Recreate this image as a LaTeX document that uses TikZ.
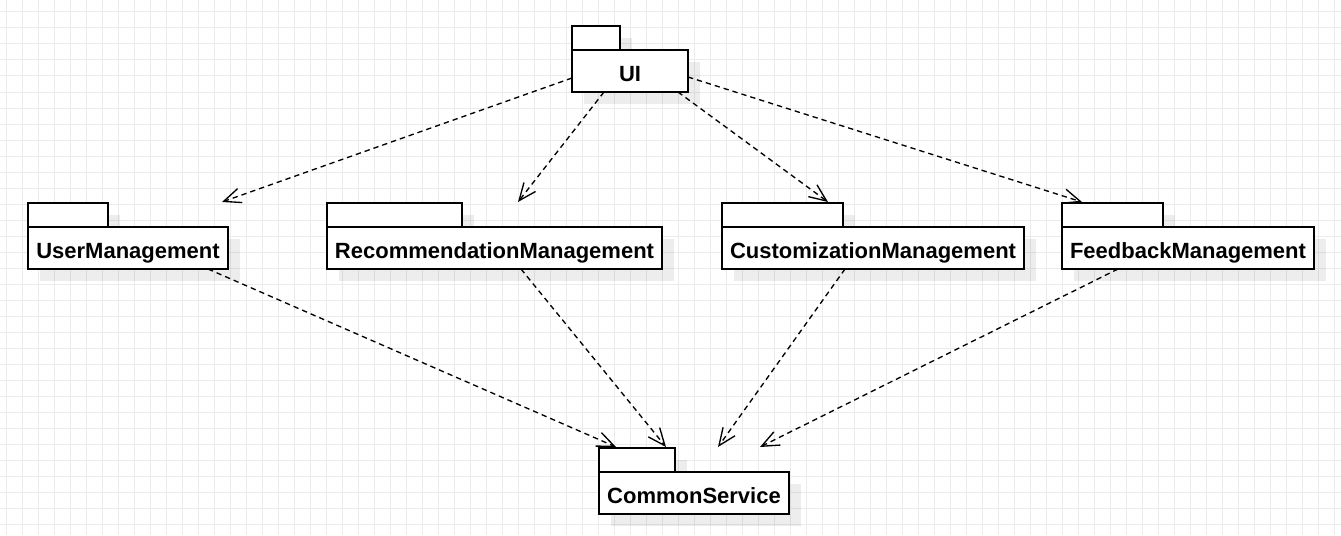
\documentclass[tikz,border=0pt]{standalone}
\usepackage{fontspec}
\setmainfont{Liberation Sans}
\usetikzlibrary{arrows.meta, calc, shadows}

\begin{document}
\begin{tikzpicture}[
            x=0.75pt, y=-0.75pt,
            gridline/.style={
                    draw=black!8,
                    line width=0.75pt
                },
            pkgshadow/.style={
                    drop shadow={
                            shadow xshift=9pt,
                            shadow yshift=-9pt,
                            fill=black,
                            opacity=0.07
                        }
                },
            pkgtab/.style={
                    draw,
                    fill=white,
                    line width=1.4pt,
                    inner sep=0pt,
                    outer sep=0pt,
                    minimum width=#1,
                    minimum height=18pt,
                    anchor=north west,
                    pkgshadow
                },
            pkgbody/.style={
                    draw,
                    fill=white,
                    line width=1.4pt,
                    inner sep=0pt,
                    outer sep=0pt,
                    minimum width=#1,
                    minimum height=31.5pt,
                    anchor=north west,
                    text height=15.2pt,
                    text depth=0pt,
                    font=\fontsize{16.5}{20}\selectfont\bfseries,
                    pkgshadow
                },
            dep/.style={
                    draw,
                    line width=1pt,
                    dash pattern=on 4pt off 3pt,
                    -{Straight Barb[length=13pt, width=11pt]}
                }
        ]

        \useasboundingbox (0,0) rectangle (1341,535);
        \fill[white] (0,0) rectangle (1341,535);

        % background grid
        \foreach \gx in {6,22,...,1341}
            \draw[gridline] (\gx,0) -- (\gx,535);
        \foreach \gy in {12,28,...,535}
            \draw[gridline] (0,\gy) -- (1341,\gy);

        % packages: tab first, then body
        \node[pkgtab=36pt] (uitab) at (572,26) {};
        \node[pkgbody=87pt] (ui) at (uitab.south west) {UI};

        \node[pkgtab=60pt] (usertab) at (28,203) {};
        \node[pkgbody=150pt] (user) at (usertab.south west) {UserManagement};

        \node[pkgtab=101.25pt] (rectab) at (327,203) {};
        \node[pkgbody=251.25pt] (rec) at (rectab.south west) {RecommendationManagement};

        \node[pkgtab=90.75pt] (custtab) at (722,203) {};
        \node[pkgbody=226.5pt] (cust) at (custtab.south west) {CustomizationManagement};

        \node[pkgtab=75.75pt] (feedtab) at (1062,203) {};
        \node[pkgbody=189pt] (feed) at (feedtab.south west) {FeedbackManagement};

        \node[pkgtab=57pt] (commontab) at (599,448) {};
        \node[pkgbody=142.5pt] (common) at (commontab.south west) {CommonService};

        % dependencies from UI
        \draw[dep] ($(ui.north west)+(0,28)$) -- ($(usertab.north west)+(194,-1)$);
        \draw[dep] ($(ui.south west)+(32,0)$) -- ($(rectab.north west)+(191,-1)$);
        \draw[dep] ($(ui.south west)+(106,0)$) -- ($(custtab.north west)+(106,-1)$);
        \draw[dep] ($(ui.north east)+(0,27)$) -- ($(feedtab.north west)+(20,-1)$);

        % dependencies to CommonService
        \draw[dep] ($(user.south west)+(180,0)$) -- ($(commontab.north west)+(17,-1)$);
        \draw[dep] ($(rec.south west)+(194,0)$) -- ($(commontab.north west)+(67,-1)$);
        \draw[dep] ($(cust.south west)+(123,0)$) -- ($(commontab.north west)+(119,-1)$);
        \draw[dep] ($(feed.south west)+(56,0)$) -- ($(commontab.north west)+(161,-1)$);

    \end{tikzpicture}
\end{document}
